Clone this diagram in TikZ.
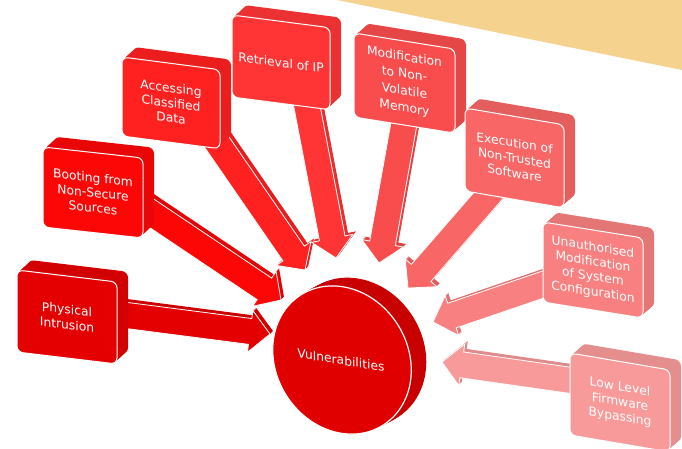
\documentclass[tikz,border=0pt]{standalone}
\usepackage{fontspec}
\newfontfamily\dejavu{DejaVu Sans}
\usetikzlibrary{calc}

\definecolor{band}{HTML}{F6D28F}
\definecolor{cA}{HTML}{E40000}
\definecolor{cB}{HTML}{FC0606}
\definecolor{cC}{HTML}{FF2020}
\definecolor{cD}{HTML}{FF3535}
\definecolor{cE}{HTML}{F94C4C}
\definecolor{cF}{HTML}{F86666}
\definecolor{cG}{HTML}{F88080}
\definecolor{cH}{HTML}{F99A9A}
\definecolor{vulfront}{HTML}{E00000}
\definecolor{vulback}{HTML}{C80000}

\newcommand\boxfont{\dejavu\fontsize{12.3}{15}\selectfont}
\newcommand\tallfont{\dejavu\fontsize{12.3}{17}\selectfont}

\tikzset{
  boxtext/.style={text=white, font=\boxfont, align=center, inner sep=0pt, transform shape},
}

% extruded rounded box: [node opts]{name}{x}{y}{w}{h}{slant}{colour}{text}
\newcommand\dbox[9][]{%
  \begin{scope}[shift={(#3,#4)}, yslant=-#7]
    \foreach \k in {11,10,...,1}
      \fill[#8!92!black, rounded corners=6pt] (\k,-\k*1.05) rectangle ++(#5,#6);
    \fill[#8, draw=white, line width=1pt, rounded corners=6pt] (0,0) rectangle (#5,#6);
    \node[boxtext,#1] (#2) at ({#5/2},{#6/2}) {#9};
  \end{scope}}

% extruded block arrow from coordinate #1 to coordinate #2
\newcommand\blockarr[3]{%
  \path (#1); \pgfgetlastxy{\arrSx}{\arrSy}%
  \path (#2); \pgfgetlastxy{\arrTx}{\arrTy}%
  \pgfmathsetmacro\arrAng{atan2(\arrTy-\arrSy,\arrTx-\arrSx)}%
  \pgfmathsetmacro\arrLen{veclen(\arrTx-\arrSx,\arrTy-\arrSy)}%
  \pgfmathsetmacro\arrBase{\arrLen-20}%
  \foreach \k in {3,2,1}
    \fill[#3!90!black, shift={(\arrSx+\k pt,\arrSy+\k pt)}, rotate=\arrAng]
      (0pt,-13pt) -- (\arrBase pt,-13pt) -- (\arrBase pt,-21pt) -- (\arrLen pt,0pt)
      -- (\arrBase pt,21pt) -- (\arrBase pt,13pt) -- (0pt,13pt) -- cycle;
  \fill[#3, draw=white, line width=0.8pt, shift={(\arrSx,\arrSy)}, rotate=\arrAng]
      (0pt,-13pt) -- (\arrBase pt,-13pt) -- (\arrBase pt,-21pt) -- (\arrLen pt,0pt)
      -- (\arrBase pt,21pt) -- (\arrBase pt,13pt) -- (0pt,13pt) -- cycle;
}

\begin{document}
\begin{tikzpicture}[x=1pt,y=-1pt]
\useasboundingbox (0,0) rectangle (682,448);
\fill[white] (0,0) rectangle (682,448);
\fill[band] (337,0) -- (682,0) -- (682,70) -- cycle;

% arrow ends
\coordinate (s1) at (100,312); \coordinate (t1) at (270,334);
\coordinate (s2) at (120,192); \coordinate (t2) at (281,300);
\coordinate (s3) at (205,125); \coordinate (t3) at (305,270);
\coordinate (s4) at (300,70);  \coordinate (t4) at (336,258);
\coordinate (s5) at (410,90);  \coordinate (t5) at (379,263);
\coordinate (s6) at (515,165); \coordinate (t6) at (408,288);
\coordinate (s7) at (580,272); \coordinate (t7) at (433,322);
\coordinate (s8) at (610,386); \coordinate (t8) at (442,362);

\blockarr{s1}{t1}{cA}
\blockarr{s2}{t2}{cB}
\blockarr{s3}{t3}{cC}
\blockarr{s4}{t4}{cD}
\blockarr{s5}{t5}{cE}
\blockarr{s6}{t6}{cF}
\blockarr{s7}{t7}{cG}
\blockarr{s8}{t8}{cH}

% central disc
\foreach \k in {15,14,...,1}
  \fill[vulback, shift={(\k,-\k*0.55)}, rotate around={32:(342,360)}]
    (342,360) ellipse [x radius=66pt, y radius=77pt];
\fill[vulfront, draw=white, line width=1.2pt, rotate around={32:(342,360)}]
  (342,360) ellipse [x radius=66pt, y radius=77pt];
\begin{scope}[shift={(341,360)}, yslant=-0.16]
  \node[boxtext] (vul) at (0,0) {Vulnerabilities};
\end{scope}

% boxes
\dbox{b1}{17}{270}{100}{82}{0.12}{cA}{Physical\\Intrusion}
\dbox{b2}{43}{147}{100}{80}{0.11}{cB}{Booting from\\Non-Secure\\Sources}
\dbox{b3}{122}{57}{98}{79}{0.13}{cC}{Accessing\\Classified\\Data}
\dbox{b4}{232}{15}{98}{82}{0.13}{cD}{Retrieval of IP}
\dbox[font=\tallfont]{b5}{354}{33}{101}{84}{0.16}{cE}{Modification\\to Non-\\Volatile\\Memory}
\dbox{b6}{465}{108}{99}{83}{0.17}{cF}{Execution of\\Non-Trusted\\Software}
\dbox{b7}{543}{222}{100}{80}{0.16}{cG}{Unauthorised\\Modification\\of System\\Configuration}
\dbox{b8}{570}{353}{100}{82}{0.17}{cH}{Low Level\\Firmware\\Bypassing}
\end{tikzpicture}
\end{document}
